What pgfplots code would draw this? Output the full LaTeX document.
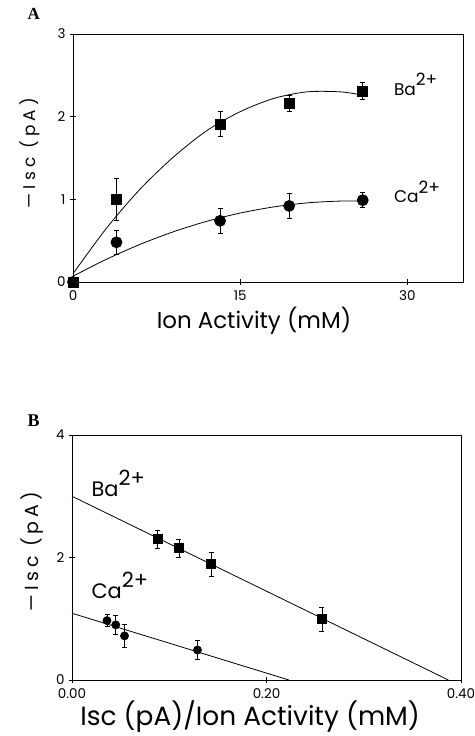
\documentclass[border=0pt]{standalone}
\usepackage{fontspec}
\setmainfont{Poppins}
\newfontfamily\panelfont{Liberation Serif}
\usepackage{pgfplots}
\pgfplotsset{compat=1.18}
\newcommand{\ion}[2]{#1\raisebox{0.55em}{#2}}
\begin{document}
\begin{tikzpicture}
\useasboundingbox (0bp,0bp) rectangle (475bp,736bp);
\pgfplotsset{
  every axis/.append style={
    scale only axis,
    clip=false,
    axis line style={line width=0.9pt},
    tick align=center,
    xtick pos=lower, ytick pos=left,
    major tick length=6bp,
    tick style={black,line width=0.7pt},
    /pgf/number format/assume math mode=true,
    ticklabel style={font=\fontsize{13.5}{15}\selectfont},
    xticklabel style={yshift=-2bp},
    yticklabel style={xshift=-1bp},
    every axis plot/.append style={line width=0.8pt, black},
    error bars/error bar style={line width=0.7pt},
    error bars/error mark options={rotate=90, mark size=2.5bp, line width=0.7pt},
  }
}
% ---------------- Panel A ----------------
\begin{axis}[
  at={(73bp,454bp)}, anchor=south west,
  width=390bp, height=248bp,
  xmin=0, xmax=35, ymin=0, ymax=3,
  xtick={0,15,30}, ytick={0,1,2,3},
  xlabel={\fontsize{23}{26}\selectfont Ion Activity (mM)},
  xlabel style={at={(axis description cs:0.464,-0.186)}, anchor=base},
  ylabel={\fontsize{17}{20}\selectfont\addfontfeatures{LetterSpace=25}—Isc (pA)},
  ylabel style={at={(axis description cs:-0.097,0.52)}, anchor=base, rotate=0},
]
% fitted curves
\addplot[smooth, no marks] coordinates {
 (0,0.10) (3,0.65) (6,1.12) (9,1.51) (12,1.83) (15,2.06) (18,2.22) (21,2.30) (24,2.30) (26,2.26)};
\addplot[smooth, no marks] coordinates {
 (0,0.07) (3,0.275) (6,0.454) (9,0.607) (12,0.734) (15,0.834) (18,0.908) (21,0.957) (24,0.979) (26,0.978)};
% Ca2+
\addplot[only marks, mark=*, mark size=5.5bp,
  error bars/.cd, y dir=both, y explicit] coordinates {
 (0,0) +- (0,0)
 (3.9,0.48) +- (0,0.15)
 (13.2,0.74) +- (0,0.15)
 (19.4,0.92) +- (0,0.15)
 (26.0,0.99) +- (0,0.09)};
% Ba2+
\addplot[only marks, mark=square*, mark size=5bp,
  error bars/.cd, y dir=both, y explicit] coordinates {
 (0,0) +- (0,0)
 (3.9,1.00) +- (0,0.25)
 (13.2,1.91) +- (0,0.15)
 (19.4,2.16) +- (0,0.10)
 (26.0,2.31) +- (0,0.10)};
\node[anchor=base west, font=\fontsize{17}{20}\selectfont] at (axis cs:28.5,2.26) {\ion{Ba}{2+}};
\node[anchor=base west, font=\fontsize{17}{20}\selectfont] at (axis cs:28.5,0.956) {\ion{Ca}{2+}};
\end{axis}
\node[anchor=base west, font=\panelfont\bfseries\fontsize{17}{20}\selectfont] at (24bp,716bp) {A};
% ---------------- Panel B ----------------
\begin{axis}[
  at={(72bp,56bp)}, anchor=south west,
  width=389bp, height=245bp,
  xmin=0, xmax=0.4, ymin=0, ymax=4,
  xtick={0,0.2,0.4}, ytick={0,2,4},
  xticklabel style={/pgf/number format/.cd, fixed, fixed zerofill, precision=2},
  scaled x ticks=false,
  xlabel={\fontsize{26.5}{30}\selectfont Isc (pA)/Ion Activity (mM)},
  xlabel style={at={(axis description cs:0.458,-0.184)}, anchor=base},
  ylabel={\fontsize{19}{22}\selectfont\addfontfeatures{LetterSpace=22}—Isc (pA)},
  ylabel style={at={(axis description cs:-0.087,0.524)}, anchor=base, rotate=0},
]
\addplot[no marks] coordinates {(0,3.0) (0.387,0)};
\addplot[no marks] coordinates {(0,1.09) (0.223,0)};
\addplot[only marks, mark=square*, mark size=4.5bp,
  error bars/.cd, y dir=both, y explicit] coordinates {
 (0.088,2.30) +- (0,0.15)
 (0.110,2.15) +- (0,0.15)
 (0.143,1.89) +- (0,0.20)
 (0.257,0.99) +- (0,0.20)};
\addplot[only marks, mark=*, mark size=4bp,
  error bars/.cd, y dir=both, y explicit] coordinates {
 (0.036,0.97) +- (0,0.10)
 (0.045,0.90) +- (0,0.15)
 (0.054,0.72) +- (0,0.19)
 (0.129,0.49) +- (0,0.15)};
\node[anchor=base west, font=\fontsize{21}{24}\selectfont] at (axis cs:0.0165,2.99) {\ion{Ba}{2+}};
\node[anchor=base west, font=\fontsize{21}{24}\selectfont] at (axis cs:0.0165,1.33) {\ion{Ca}{2+}};
\end{axis}
\node[anchor=base west, font=\panelfont\bfseries\fontsize{18}{21}\selectfont] at (24bp,309bp) {B};
\end{tikzpicture}
\end{document}
